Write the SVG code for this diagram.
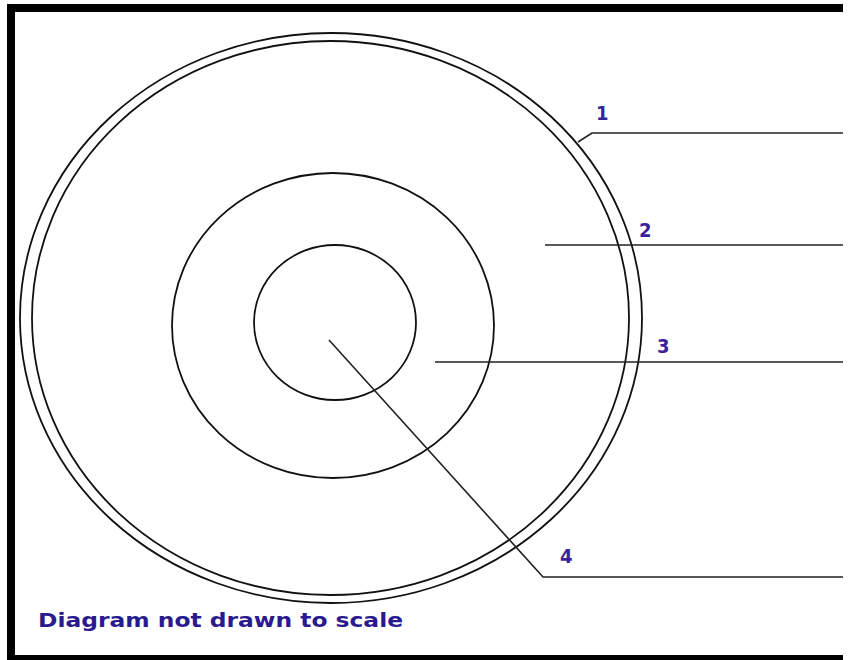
<svg xmlns="http://www.w3.org/2000/svg" width="849" height="660" viewBox="0 0 849 660">
<style>
.ring{fill:none;stroke:#111;stroke-width:1.8}
.conn{fill:none;stroke:#222;stroke-width:1.6}
.lbl{font-family:"DejaVu Sans Condensed","DejaVu Sans",sans-serif;font-weight:bold;font-size:20px;fill:#3d1f9c}
.note{font-family:"DejaVu Sans Condensed","DejaVu Sans",sans-serif;font-weight:bold;font-size:20px;fill:#2a1a8e}
</style>
<rect x="0" y="0" width="849" height="660" fill="#fff"/>
<rect id="frame" x="11" y="8" width="900" height="651" fill="none" stroke="#000" stroke-width="8"/>
<rect x="843" y="0" width="6" height="660" fill="#fff"/>
<g id="disc-outer">
<ellipse class="ring" cx="331" cy="318" rx="311" ry="285"/>
<ellipse class="ring" cx="330.5" cy="318" rx="298.5" ry="277"/>
</g>
<g id="disc-middle">
<ellipse class="ring" cx="333" cy="325.5" rx="161" ry="152.5"/>
</g>
<g id="disc-inner">
<ellipse class="ring" cx="335" cy="322.5" rx="81" ry="77.5"/>
</g>
<g id="connectors">
<polyline class="conn" points="578,142 592,133 843,133"/>
<line class="conn" x1="545" y1="245" x2="843" y2="245"/>
<line class="conn" x1="435" y1="362" x2="843" y2="362"/>
<polyline class="conn" points="329,340 543,577 843,577"/>
</g>
<g id="label-1"><text class="lbl" x="596" y="120">1</text></g>
<g id="label-2"><text class="lbl" x="639" y="237">2</text></g>
<g id="label-3"><text class="lbl" x="657" y="353">3</text></g>
<g id="label-4"><text class="lbl" x="560" y="563">4</text></g>
<g id="note"><text class="note" x="38" y="627" textLength="365" lengthAdjust="spacingAndGlyphs">Diagram not drawn to scale</text></g>
</svg>
